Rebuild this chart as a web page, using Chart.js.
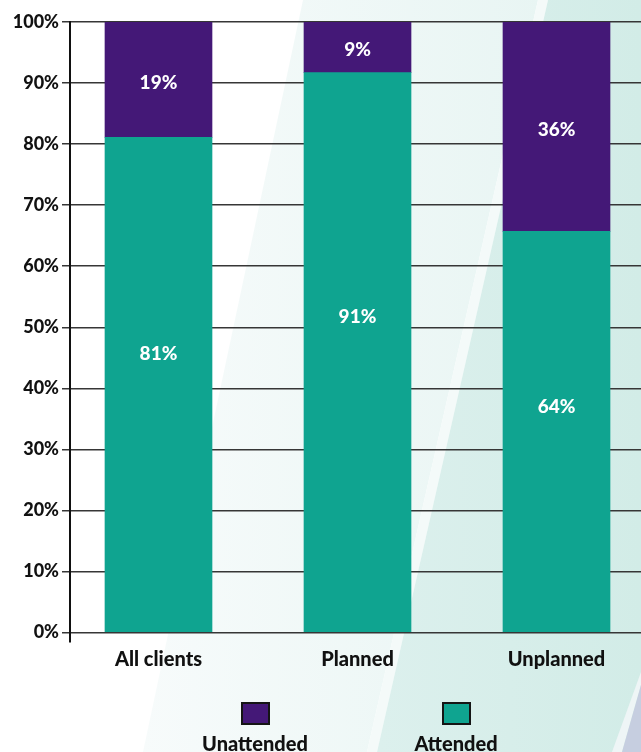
<!DOCTYPE html>
<html>
<head>
<meta charset="utf-8">
<script src="https://cdn.jsdelivr.net/npm/chart.js@4.4.0/dist/chart.umd.min.js"></script>
<style>
  html, body { margin: 0; padding: 0; }
  body { width: 641px; height: 752px; position: relative; overflow: hidden; background: #fff; font-family: Lato, sans-serif; }
  #sfondo { position: absolute; left: 0; top: 0; }
  #box { position: absolute; left: 0; top: 0; width: 641px; height: 752px; }
  .leg { position: absolute; top: 702px; width: 140px; text-align: center; }
  .leg .q { width: 25px; height: 19px; border: 2px solid #151515; margin: 0 auto; }
  .leg span { display: block; margin-top: 6px; font-weight: 900; font-size: 20px; line-height: 24px; color: #111; }
</style>
</head>
<body>
<!-- sfondo a bande diagonali -->
<svg id="sfondo" width="641" height="752">
  <defs>
    <linearGradient id="g1" x1="140" y1="0" x2="545" y2="0" gradientUnits="userSpaceOnUse">
      <stop offset="0" stop-color="#f7fbfb"/>
      <stop offset="1" stop-color="#e8f5f3"/>
    </linearGradient>
    <linearGradient id="g2" x1="380" y1="0" x2="641" y2="0" gradientUnits="userSpaceOnUse">
      <stop offset="0" stop-color="#dcf0ed"/>
      <stop offset="1" stop-color="#d2ece7"/>
    </linearGradient>
  </defs>
  <polygon points="303,0 538,0 367,752 143,752" fill="url(#g1)"/>
  <polygon points="538,0 548,0 377,752 367,752" fill="#f4faf9"/>
  <polygon points="548,0 641,0 641,752 377,752" fill="url(#g2)"/>
  <polygon points="641,672 641,685 622,752 612,752" fill="#eef5f6"/>
  <polygon points="641,685 641,752 622,752" fill="#c6cee0"/>
</svg>

<div id="box"><canvas id="myChart" width="641" height="752"></canvas></div>

<div class="leg" style="left:185px"><div class="q" style="background:#441877"></div><span>Unattended</span></div>
<div class="leg" style="left:386px"><div class="q" style="background:#0fa490"></div><span>Attended</span></div>

<script>
var categorie = ['All clients', 'Planned', 'Unplanned'];
var attended = [81.1, 91.7, 65.7];
var unattended = [18.9, 8.3, 34.3];
var attendedLabels = ['81%', '91%', '64%'];
var unattendedLabels = ['19%', '9%', '36%'];
var yTicks = [0, 10, 20, 30, 40, 50, 60, 70, 80, 90, 100];

var viola = '#441877';
var verde = '#0fa490';

function punti(arr) {
  var out = [];
  for (var i = 0; i < arr.length; i++) {
    out.push({ x: i, y: arr[i] });
  }
  return out;
}

// etichette bianche dentro le barre
var etichette = {
  id: 'etichette',
  afterDatasetsDraw: function(chart) {
    var ctx = chart.ctx;
    ctx.save();
    ctx.fillStyle = '#fff';
    ctx.font = '900 19px Lato';
    ctx.textAlign = 'center';
    ctx.textBaseline = 'middle';
    chart.data.datasets.forEach(function(ds, d) {
      var meta = chart.getDatasetMeta(d);
      meta.data.forEach(function(bar, i) {
        var p = bar.getProps(['x', 'y', 'base'], true);
        var y;
        if (d == 0) {
          y = p.base - (p.base - p.y) * 0.565 + 1;
        } else {
          y = (p.y + p.base) / 2 + 3;
        }
        ctx.fillText(ds.testi[i], p.x, y);
      });
    });
    ctx.restore();
  }
};

// asse y che scende un po' sotto lo zero
var asse = {
  id: 'asse',
  afterDraw: function(chart) {
    var ctx = chart.ctx;
    var a = chart.chartArea;
    ctx.save();
    ctx.strokeStyle = '#111';
    ctx.lineWidth = 2;
    ctx.beginPath();
    ctx.moveTo(a.left, a.bottom);
    ctx.lineTo(a.left, a.bottom + 10);
    ctx.stroke();
    ctx.restore();
  }
};

function grafico() {
  var ctx = document.getElementById('myChart');
  var chart = new Chart(ctx, {
    type: 'bar',
    data: {
      datasets: [{
        label: 'Attended',
        data: punti(attended),
        testi: attendedLabels,
        backgroundColor: verde
      }, {
        label: 'Unattended',
        data: punti(unattended),
        testi: unattendedLabels,
        backgroundColor: viola
      }]
    },
    options: {
      responsive: false,
      animation: false,
      layout: { padding: { top: 22, right: 0, bottom: 0, left: 0 } },
      barThickness: 107,
      plugins: {
        legend: { display: false },
        tooltip: { enabled: false }
      },
      scales: {
        x: {
          type: 'linear',
          stacked: true,
          offset: false,
          min: -0.4447,
          max: 2.4246,
          grid: { display: false, drawTicks: false, offset: false },
          border: { display: false },
          afterBuildTicks: function(scale) {
            scale.ticks = categorie.map(function(c, i) { return { value: i }; });
          },
          afterFit: function(scale) { scale.height = 119.5; },
          ticks: {
            padding: 15,
            color: '#111',
            font: { family: 'Lato', weight: '900', size: 20 },
            callback: function(v) { return categorie[v]; }
          }
        },
        y: {
          stacked: true,
          min: 0,
          max: 100,
          afterBuildTicks: function(scale) {
            scale.ticks = yTicks.map(function(v) { return { value: v }; });
          },
          afterFit: function(scale) { scale.width = 70; },
          grid: { color: '#363636', lineWidth: 1.5, tickLength: 8 },
          border: { color: '#111', width: 2 },
          ticks: {
            padding: 3,
            color: '#111',
            font: { family: 'Lato', weight: '900', size: 18 },
            callback: function(v) { return v + '%'; }
          }
        }
      }
    },
    plugins: [etichette, asse]
  });
}

document.fonts.load('900 20px Lato').then(grafico, grafico);
</script>
</body>
</html>
